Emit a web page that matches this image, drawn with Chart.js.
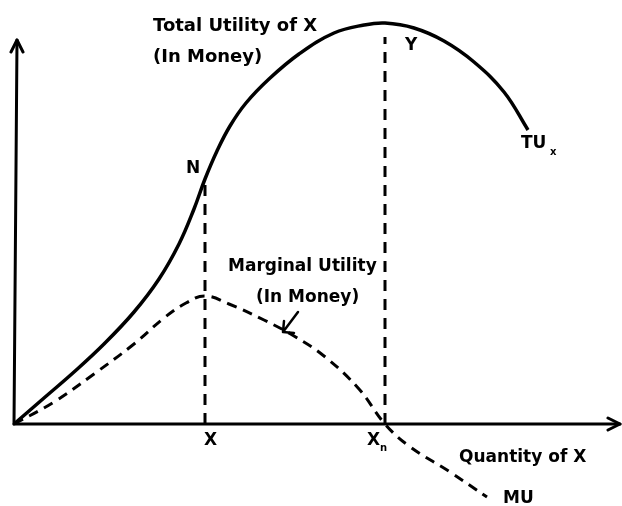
<!DOCTYPE html>
<html>
<head>
<meta charset="utf-8">
<script src="https://cdn.jsdelivr.net/npm/chart.js@4.4.1/dist/chart.umd.min.js"></script>
<style>
  html, body { margin: 0; padding: 0; background: #fff; }
  canvas { display: block; }
</style>
</head>
<body>
<canvas id="chart1" width="622" height="506"></canvas>
<script>
// values (x = quantity, y = utility in money, origin at axes corner)
var tuX = [0, 30, 60, 90, 120, 145, 165, 180, 191, 203, 216, 232, 255, 285, 320, 350, 371, 400, 430, 460, 490, 514];
var tuY = [0, 26, 52, 80, 112, 145, 180, 215, 245, 273, 298, 321, 345, 370, 391, 399, 401, 396, 383, 362, 332, 294];

var muX = [0, 40, 80, 120, 150, 172, 191, 215, 250, 280, 310, 345, 371, 395, 436, 473];
var muY = [0, 22, 50, 80, 106, 121, 128, 120, 104, 88, 68, 35, 0, -22, -48, -73];

// key quantities on the x axis
var qtyX = 191;   // point X (N on TU)
var qtyXn = 371;  // point Xn (TU max, MU = 0)

// text on the drawing
var labelTotal = ["Total Utility of X", "(In Money)"];
var labelMarginal = ["Marginal Utility", "(In Money)"];
var labelAxisX = "Quantity of X";

function pts(xs, ys) {
	var out = [];
	for (var i = 0; i < xs.length; i++) {
		out.push({x: xs[i], y: ys[i]});
	}
	return out;
}

function valueAt(xs, ys, x) {
	for (var i = 0; i < xs.length; i++) {
		if (xs[i] == x) return ys[i];
	}
	return 0;
}

var font = "bold 17px 'DejaVu Sans'";

//draws axes arrows and the labels
var drawingPlugin = {
	id: "drawing",
	afterDatasetsDraw: function(chart) {
		var ctx = chart.ctx;
		var sx = chart.scales.x;
		var sy = chart.scales.y;
		var px = function(v) { return sx.getPixelForValue(v); };
		var py = function(v) { return sy.getPixelForValue(v); };

		ctx.save();
		ctx.strokeStyle = "#000";
		ctx.fillStyle = "#000";
		ctx.lineCap = "round";
		ctx.lineJoin = "round";

		// arrow heads of the axes
		ctx.lineWidth = 3;
		ctx.beginPath();
		ctx.moveTo(px(3) - 6, py(384) + 12);
		ctx.lineTo(px(3), py(384));
		ctx.lineTo(px(3) + 6, py(384) + 12);
		ctx.moveTo(px(606) - 12, py(0) - 6);
		ctx.lineTo(px(606), py(0));
		ctx.lineTo(px(606) - 12, py(0) + 6);
		ctx.stroke();

		// small pointer to the MU curve
		ctx.lineWidth = 2.5;
		ctx.beginPath();
		ctx.moveTo(px(284), py(112));
		ctx.lineTo(px(269), py(92));
		ctx.moveTo(px(269) + 1, py(92) - 11);
		ctx.lineTo(px(269), py(92));
		ctx.lineTo(px(269) + 11, py(92) + 1);
		ctx.stroke();

		ctx.textBaseline = "alphabetic";
		ctx.textAlign = "left";
		ctx.font = "bold 18px 'DejaVu Sans'";
		ctx.fillText(labelTotal[0], 153, 31);
		ctx.fillText(labelTotal[1], 153, 62);
		ctx.font = font;
		ctx.fillText("N", 186, 173);
		ctx.fillText("Y", 405, 50);
		ctx.fillText("TU", 521, 148);
		ctx.fillText(labelMarginal[0], 228, 271);
		ctx.fillText(labelMarginal[1], 256, 302);
		ctx.fillText("X", px(qtyX) - 1, 445);
		ctx.fillText("X", px(qtyXn) - 18, 445);
		ctx.fillText(labelAxisX, 459, 462);
		ctx.fillText("MU", 503, 503);

		ctx.font = "bold 10px 'DejaVu Sans'";
		ctx.fillText("x", 550, 155);
		ctx.fillText("n", px(qtyXn) - 5, 451);
		ctx.restore();
	}
};

var ctx = document.getElementById("chart1");

var nTop = valueAt(tuX, tuY, qtyX);
var yTop = valueAt(tuX, tuY, qtyXn);

var chartdata = {
	datasets: [
		{
			label: "y axis",
			data: [{x: 0, y: 0}, {x: 3, y: 384}],
			borderColor: "#000",
			borderWidth: 3,
			tension: 0,
			borderCapStyle: "round"
		},
		{
			label: "x axis",
			data: [{x: 0, y: 0}, {x: 606, y: 0}],
			borderColor: "#000",
			borderWidth: 3,
			tension: 0,
			borderCapStyle: "round"
		},
		{
			label: "TU",
			data: pts(tuX, tuY),
			borderColor: "#000",
			borderWidth: 3.5,
			tension: 0.4
		},
		{
			label: "MU",
			data: pts(muX, muY),
			borderColor: "#000",
			borderWidth: 3,
			borderDash: [10, 7],
			tension: 0.4
		},
		{
			label: "X line",
			data: [{x: qtyX, y: 0}, {x: qtyX, y: nTop - 6}],
			borderColor: "#000",
			borderWidth: 3,
			tension: 0,
			borderDash: [11, 8]
		},
		{
			label: "Xn line",
			data: [{x: qtyXn, y: 0}, {x: qtyXn, y: yTop - 14}],
			borderColor: "#000",
			borderWidth: 3,
			tension: 0,
			borderDash: [11, 8]
		}
	]
};

var chart = new Chart(ctx, {
	type: "scatter",
	data: chartdata,
	options: {
		responsive: false,
		animation: false,
		devicePixelRatio: 1,
		layout: { padding: 0 },
		showLine: true,
		elements: { point: { radius: 0, hoverRadius: 0 } },
		plugins: {
			legend: { display: false },
			tooltip: { enabled: false }
		},
		scales: {
			x: { type: "linear", min: -14, max: 608, display: false },
			y: { type: "linear", min: -82, max: 424, display: false }
		}
	},
	plugins: [drawingPlugin]
});
</script>
</body>
</html>
